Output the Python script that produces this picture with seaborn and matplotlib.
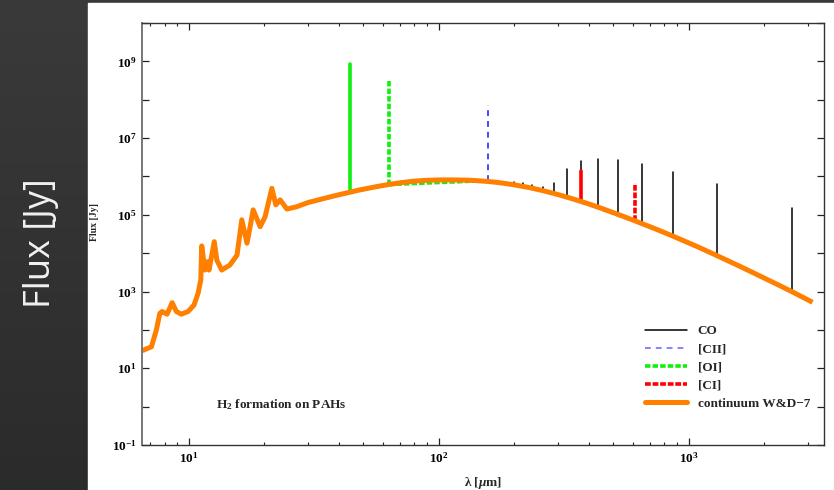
import numpy as np
import pandas as pd
import matplotlib
matplotlib.use("Agg")
import matplotlib.pyplot as plt
import seaborn as sns
from matplotlib.lines import Line2D
from matplotlib.patches import Rectangle
from matplotlib.ticker import FixedLocator, NullLocator, LogLocator, FuncFormatter, NullFormatter

# ---------------- data ----------------
cont_wavelength = [6.52, 7.09, 7.42, 7.66, 7.82, 8.19, 8.58, 8.92, 9.34, 9.94, 10.5, 10.9,
                   11.17, 11.27, 11.6, 11.9, 12.05, 12.65, 12.95, 13.55, 14.6, 15.6, 16.3,
                   17.1, 17.6, 18.1, 19.3, 20.2, 21.5, 22.3, 23.2, 24.7, 27.0, 30.0, 33.5, 36.7,
                   40.0, 44.2, 48.0, 53.0, 57.0, 63.0, 70.0, 79.0, 87.0, 95.0, 102.0, 111.0,
                   120.0, 130.0, 140.0, 158.0, 175.0, 200.0, 232.0, 260.0, 290.0, 330.0,
                   367.0, 400.0, 450.0, 520.0, 609.0, 730.0, 865.0, 1080.0, 1300.0, 1600.0,
                   1900.0, 2250.0, 2620.0, 3130.0]
cont_logflux = [1.46, 1.56, 2.00, 2.43, 2.48, 2.41, 2.71, 2.48, 2.41, 2.48, 2.65, 2.96,
                3.30, 4.19, 3.56, 3.78, 3.56, 4.30, 3.82, 3.56, 3.69, 3.95, 4.87,
                4.26, 4.69, 5.13, 4.69, 4.95, 5.69, 5.26, 5.39, 5.15, 5.21, 5.32, 5.40, 5.465,
                5.525, 5.59, 5.645, 5.70, 5.74, 5.79, 5.835, 5.875, 5.895, 5.905, 5.91, 5.91,
                5.908, 5.903, 5.893, 5.869, 5.838, 5.783, 5.706, 5.633, 5.555, 5.45,
                5.358, 5.28, 5.165, 5.015, 4.844, 4.643, 4.445, 4.174, 3.935, 3.66,
                3.426, 3.194, 2.981, 2.72]

co_wavelength = [2600.8, 1300.4, 866.96, 650.25, 520.23, 433.56, 371.65, 325.23,
                 289.12, 260.24, 236.61, 216.93, 200.27]
co_base_logflux = [2.98, 3.935, 4.443, 4.773, 5.015, 5.20, 5.347, 5.463, 5.557, 5.633, 5.695,
                   5.745, 5.783]
co_peak_logflux = [5.17, 5.80, 6.11, 6.32, 6.42, 6.46, 6.40, 6.19, 5.84, 5.72, 5.77, 5.82, 5.86]

cii_wavelength = [157.7]
cii_base_logflux = [5.869]
cii_peak_logflux = [7.85]

oi_wavelength = [44.2, 63.18, 145.5]
oi_base_logflux = [5.59, 5.79, 5.885]
oi_peak_logflux = [8.935, 8.52, 5.92]
oi_styles = ["solid", "dotted", "dotted"]

ci_wavelength = [370.4, 609.1]
ci_base_logflux = [5.35, 4.844]
ci_peak_logflux = [6.145, 5.82]
ci_styles = ["solid", "dashed"]

legend_labels = ["CO", "[CII]", "[OI]", "[CI]", "continuum W&D\u22127"]
annotation = "H$_2$ formation on PAHs"

# ---------------- style ----------------
sns.set_style("ticks")
plt.rcParams["font.family"] = ["Liberation Serif", "DejaVu Serif"]
plt.rcParams["font.weight"] = "bold"
plt.rcParams["mathtext.fontset"] = "custom"
plt.rcParams["mathtext.rm"] = "Liberation Serif:bold"
plt.rcParams["mathtext.it"] = "Liberation Serif:italic:bold"
plt.rcParams["mathtext.bf"] = "Liberation Serif:bold"

C_CO = "#000000"
C_CII = "#2a2aff"
C_OI = "#11ee11"
C_CI = "#ff0000"
C_CONT = "#ff8000"
STYLES = {"solid": "-", "dotted": (0, (1.5, 0.6)), "dashed": (0, (1.6, 0.5))}

W, H = 834, 490
fig = plt.figure(figsize=(W / 100, H / 100), dpi=100)
fig.patch.set_facecolor("#333333")

# dark left panel with gradient
bg = fig.add_axes([0, 0, 1, 1], zorder=-10)
grad = np.linspace(0, 1, 256).reshape(-1, 1)
bg.imshow(grad, aspect="auto", cmap=matplotlib.colors.LinearSegmentedColormap.from_list(
    "g", ["#3a3a3a", "#2b2b2b"]), extent=[0, 1, 0, 1])
bg.set_axis_off()
bg.add_patch(Rectangle((88 / W, 0), 1 - 88 / W, 1 - 3 / H, color="white", zorder=5))
fig.text(41 / W, 1 - 243 / H, "Flux [Jy]", rotation=90, color="#f2f2f2",
         fontsize=26, family=["Open Sans", "DejaVu Sans"], weight="normal",
         ha="center", va="center")

ax = fig.add_axes([142 / W, 1 - 445 / H, (824 - 142) / W, (445 - 23) / H])
ax.set_facecolor("white")
ax.set_xscale("log")
ax.set_yscale("log")


def spikes(lam, base, peak):
    rows = []
    for i, (l, b, p) in enumerate(zip(lam, base, peak)):
        rows.append((l, 10 ** b, i))
        rows.append((l, 10 ** p, i))
    return pd.DataFrame(rows, columns=["lam", "flux", "line"])


def baseline(lam, base):
    d = pd.DataFrame({"lam": lam, "flux": 10 ** np.array(base)})
    return d.sort_values("lam")


# CO
sns.lineplot(data=spikes(co_wavelength, co_base_logflux, co_peak_logflux), x="lam", y="flux",
             units="line", estimator=None, sort=False, color=C_CO, lw=1.1, ax=ax)
sns.lineplot(data=baseline(co_wavelength, co_base_logflux), x="lam", y="flux",
             estimator=None, sort=False, color=C_CO, lw=1.1, ax=ax)
# CII
sns.lineplot(data=spikes(cii_wavelength, cii_base_logflux, cii_peak_logflux), x="lam", y="flux",
             units="line", estimator=None, sort=False, color=C_CII, lw=1.2,
             linestyle=(0, (3.5, 3)), ax=ax)
# OI
for i in range(len(oi_wavelength)):
    sns.lineplot(data=spikes(oi_wavelength[i:i + 1], oi_base_logflux[i:i + 1], oi_peak_logflux[i:i + 1]),
                 x="lam", y="flux", units="line", estimator=None, sort=False, color=C_OI, lw=2.6,
                 linestyle=STYLES[oi_styles[i]], ax=ax)
sns.lineplot(data=baseline(oi_wavelength[1:], oi_base_logflux[1:]), x="lam", y="flux",
             estimator=None, sort=False, color=C_OI, lw=2.6, linestyle=STYLES["dotted"], ax=ax)
# CI
for i in range(len(ci_wavelength)):
    sns.lineplot(data=spikes(ci_wavelength[i:i + 1], ci_base_logflux[i:i + 1], ci_peak_logflux[i:i + 1]),
                 x="lam", y="flux", units="line", estimator=None, sort=False, color=C_CI, lw=2.6,
                 linestyle=STYLES[ci_styles[i]], ax=ax)
sns.lineplot(data=baseline(ci_wavelength, ci_base_logflux), x="lam", y="flux",
             estimator=None, sort=False, color=C_CI, lw=2.6, linestyle=STYLES["dashed"], ax=ax)
# continuum
cont = pd.DataFrame({"lam": cont_wavelength, "flux": 10 ** np.array(cont_logflux)})
sns.lineplot(data=cont, x="lam", y="flux", estimator=None, sort=False, color=C_CONT, lw=3.6,
             solid_joinstyle="round", solid_capstyle="butt", ax=ax)

ax.set_xlim(6.5, 3480)
ax.set_ylim(1e-1, 1e10)

ax.xaxis.set_major_locator(FixedLocator([10, 100, 1000]))
ax.xaxis.set_minor_locator(LogLocator(base=10, subs=np.arange(2, 10)))
ax.xaxis.set_minor_formatter(NullFormatter())
ax.xaxis.set_major_formatter(FuncFormatter(lambda v, p: f"$10^{{{int(round(np.log10(v)))}}}$"))
ax.yaxis.set_major_locator(FixedLocator(10.0 ** np.arange(-1, 11)))
ax.yaxis.set_minor_locator(NullLocator())


def yfmt(v, p):
    e = int(round(np.log10(v)))
    return f"$10^{{{e}}}$" if (e % 2 != 0 and e < 10) else ""


ax.yaxis.set_major_formatter(FuncFormatter(yfmt))
ax.tick_params(which="both", direction="in", top=True, right=True, colors="#222222",
               labelcolor="black", labelsize=9.5)
ax.tick_params(which="major", length=5, width=0.9, pad=4)
ax.tick_params(which="minor", length=2.5, width=0.8)
for s in ax.spines.values():
    s.set_color("#333333")
    s.set_linewidth(1.0)
ax.spines["left"].set_color("#777777")
ax.spines["left"].set_linewidth(1.4)

ax.set_xlabel("\u03bb [$\\mu$m]", fontsize=9.5, weight="bold", va="center")
ax.xaxis.set_label_coords(0.5, (445 - 483) / 422)
ax.set_ylabel("Flux [Jy]", fontsize=7, weight="bold", va="center")
ax.yaxis.set_label_coords((94.5 - 142) / 682, (445 - 222) / 422)

ax.text(216 / W, 1 - 405 / H, annotation, transform=fig.transFigure, fontsize=9.5,
        weight="bold", ha="left", va="center")

handles = [
    Line2D([], [], color=C_CO, lw=1.1),
    Line2D([], [], color="#6f6fff", lw=1.2, linestyle=(0, (3.5, 3))),
    Line2D([], [], color=C_OI, lw=2.6, linestyle=STYLES["dotted"]),
    Line2D([], [], color=C_CI, lw=2.6, linestyle=STYLES["dashed"]),
    Line2D([], [], color=C_CONT, lw=3.6),
]
leg = ax.legend(handles, legend_labels, loc="upper left", frameon=False,
                bbox_to_anchor=(645 / W, 1 - 325 / H), bbox_transform=fig.transFigure,
                borderpad=0, borderaxespad=0, handlelength=3.2, handletextpad=0.8,
                labelspacing=0.45, prop={"family": "Liberation Serif", "weight": "bold", "size": 9.5})

fig.savefig("out.png", dpi=100, facecolor=fig.get_facecolor())
